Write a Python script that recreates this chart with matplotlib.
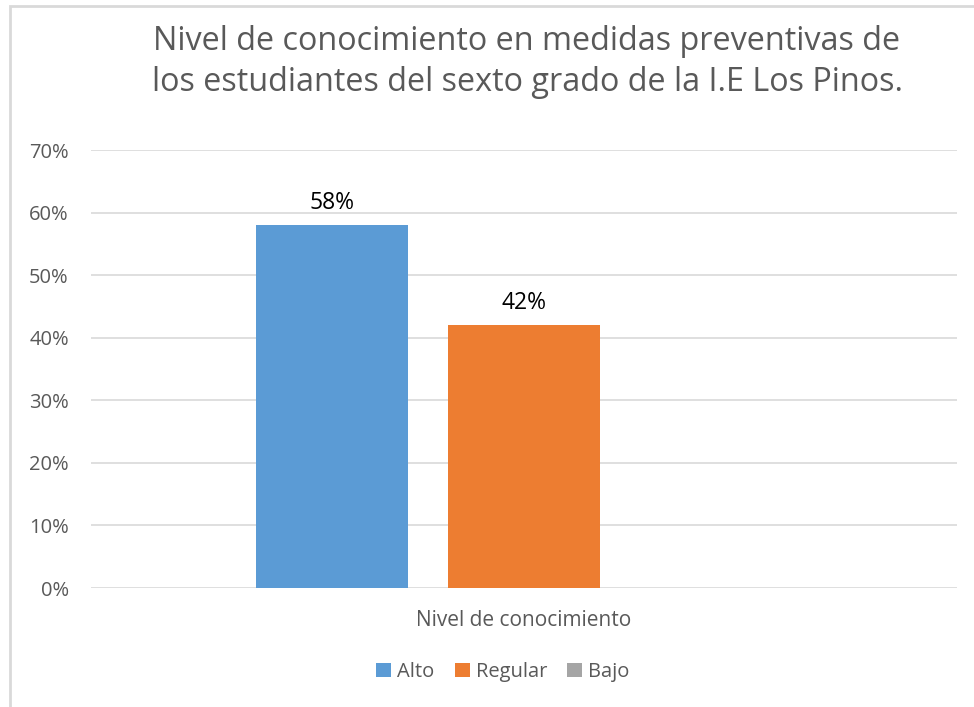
import matplotlib
matplotlib.use("Agg")
import matplotlib.pyplot as plt
from matplotlib.patches import Rectangle
import numpy as np

title = "Nivel de conocimiento en medidas preventivas de\nlos estudiantes del sexto grado de la I.E Los Pinos."
category = ["Nivel de conocimiento"]
series = ["Alto", "Regular", "Bajo"]
values = [58, 42, 0]
labels = ["58%", "42%", ""]
colors = ["#5B9BD5", "#ED7D31", "#A5A5A5"]
yticks = [0, 10, 20, 30, 40, 50, 60, 70]

plt.rcParams['font.family'] = ['Open Sans', 'DejaVu Sans']
fig = plt.figure(figsize=(9.74, 7.07), dpi=100)
fig.patch.set_facecolor("white")
fig.patches.append(Rectangle((10/974, -0.05), 1.2, (707-6)/707 + 0.05, transform=fig.transFigure,
                             fill=False, edgecolor="#D9D9D9", lw=2))

ax = fig.add_axes([91/974, (707-588)/707, (957-91)/974, (588-150)/707])
w = 152/866
off = 192/866
for i, (s, v, c, lab) in enumerate(zip(series, values, colors, labels)):
    x = (i - 1) * off
    ax.bar(x, v, width=w, color=c, label=s, zorder=3)
    if lab:
        ax.text(x, v + 1.6, lab, ha="center", va="bottom", fontsize=16.5, color="black")

ax.set_xlim(-0.5, 0.5)
ax.set_ylim(0, 70)
ax.set_yticks(yticks)
ax.set_yticklabels([f"{t}%" for t in yticks], fontsize=14.5, color="#595959")
ax.set_xticks([0])
ax.set_xticklabels(category, fontsize=15, color="#595959")
ax.tick_params(axis="y", length=0, pad=16)
ax.tick_params(axis="x", length=0, pad=16)
ax.grid(axis="y", color="#D9D9D9", lw=1.2, zorder=0)
for sp in ax.spines.values():
    sp.set_visible(False)

fig.text(527/974, 1 - 62/707, title, ha="center", va="center", fontsize=23.3,
         color="#595959", linespacing=1.34)

handles, lbls = ax.get_legend_handles_labels()
fig.legend(handles, lbls, loc="center", bbox_to_anchor=(503/974, 1 - 672/707), ncol=3,
           frameon=False, fontsize=14.5, handlelength=0.75, handleheight=0.75,
           handletextpad=0.3, columnspacing=1.0, labelcolor="#595959")

fig.savefig("out.png", dpi=100)
